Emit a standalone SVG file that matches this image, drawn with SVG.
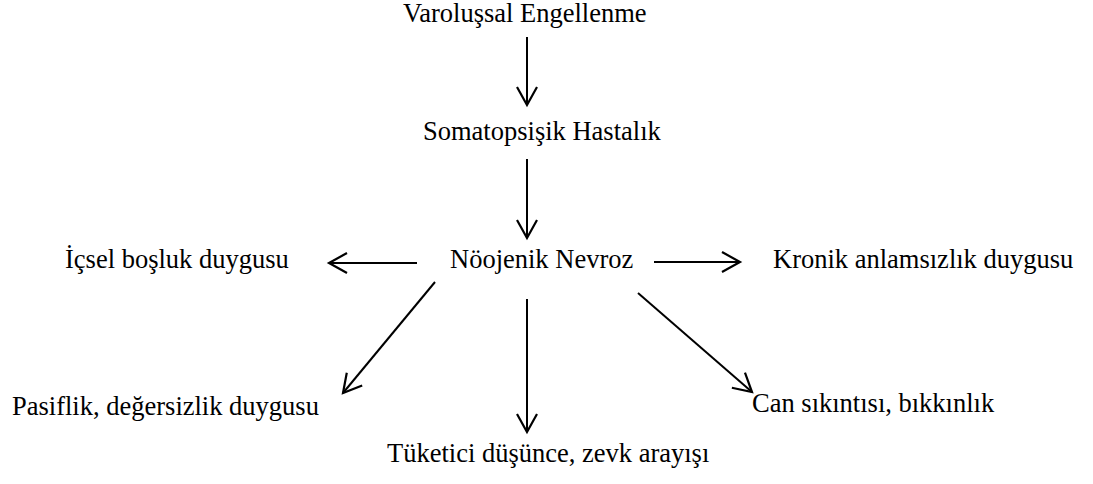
<svg xmlns="http://www.w3.org/2000/svg" width="1093" height="484" viewBox="0 0 1093 484">
  <style>
    text { font-family: 'Liberation Serif', 'DejaVu Serif', 'Times New Roman', Times, serif; font-size: 26.5px; fill: #000; }
    .conn { stroke: #000; stroke-width: 2; fill: none; marker-end: url(#arrow); }
  </style>
  <defs>
    <marker id="arrow" markerUnits="userSpaceOnUse" markerWidth="26" markerHeight="26" viewBox="-22 -13 26 26" refX="0" refY="0" orient="auto">
      <path d="M-18,-10 L0,0 L-18,10" fill="none" stroke="#000" stroke-width="2.2"/>
    </marker>
  </defs>
  <rect width="1093" height="484" fill="#fff"/>
  <g id="connectors">
    <line class="conn" x1="527" y1="37" x2="527" y2="105"/>
    <line class="conn" x1="527" y1="159" x2="527" y2="238"/>
    <line class="conn" x1="417" y1="263" x2="329" y2="263"/>
    <line class="conn" x1="654" y1="262" x2="740" y2="262"/>
    <line class="conn" x1="435" y1="282" x2="343" y2="393"/>
    <line class="conn" x1="527" y1="299" x2="527" y2="432"/>
    <line class="conn" x1="638" y1="293" x2="752" y2="392"/>
  </g>
  <g id="node-varolussal"><text x="403" y="22">Varoluşsal Engellenme</text></g>
  <g id="node-somatopsisik"><text x="423" y="140">Somatopsişik Hastalık</text></g>
  <g id="node-noojenik"><text x="450" y="268">Nöojenik Nevroz</text></g>
  <g id="node-icsel"><text x="65" y="268">İçsel boşluk duygusu</text></g>
  <g id="node-kronik"><text x="773" y="268">Kronik anlamsızlık duygusu</text></g>
  <g id="node-pasiflik"><text x="12" y="415">Pasiflik, değersizlik duygusu</text></g>
  <g id="node-tuketici"><text x="387" y="462">Tüketici düşünce, zevk arayışı</text></g>
  <g id="node-can"><text x="752" y="412">Can sıkıntısı, bıkkınlık</text></g>
</svg>
